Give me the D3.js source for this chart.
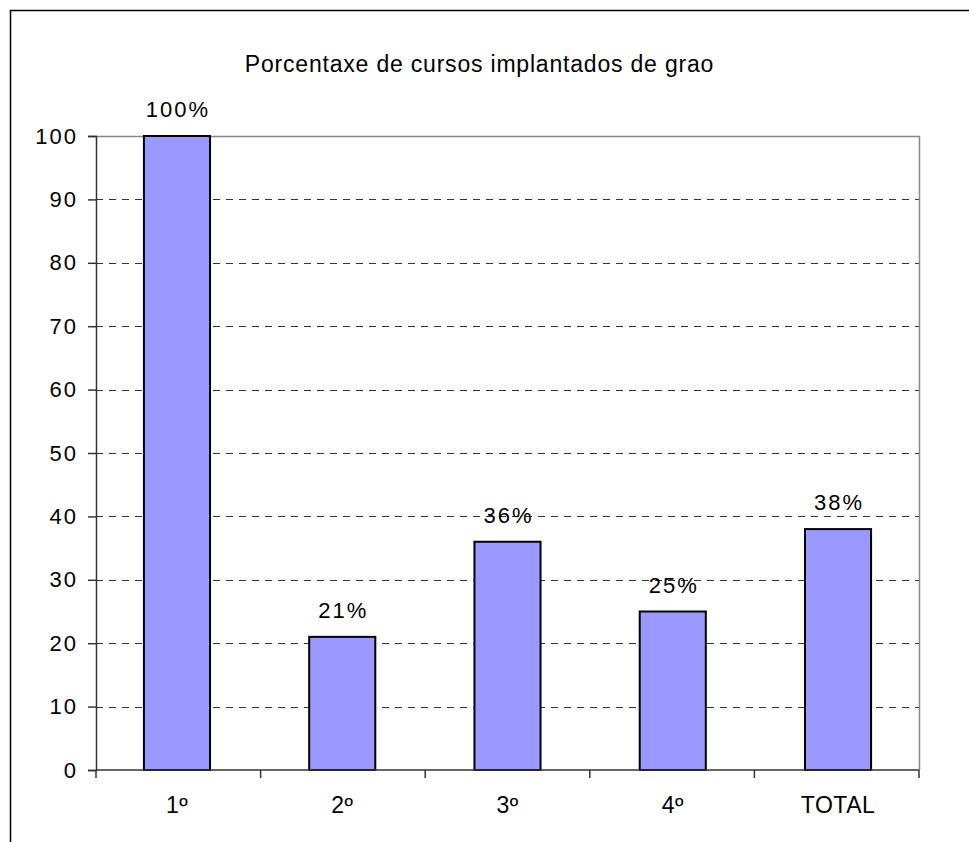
<!DOCTYPE html>
<html>
<head>
<meta charset="utf-8">
<script src="https://cdn.jsdelivr.net/npm/d3@7"></script>
<style>
  body { margin: 0; background: #fff; }
  svg { display: block; font-family: Arial, "Liberation Sans", sans-serif; }
</style>
</head>
<body>
<svg id="chart" width="969" height="842"></svg>
<script>
const title = 'Porcentaxe de cursos implantados de grao'
const categories = ['1º', '2º', '3º', '4º', 'TOTAL']
const values = [100, 21, 36, 25, 38]
const labels = ['100%', '21%', '36%', '25%', '38%']
const yTicks = [0, 10, 20, 30, 40, 50, 60, 70, 80, 90, 100]

const margin = { top: 136, left: 96, right: 50, bottom: 72 }
const width = 969 - margin.left - margin.right
const height = 842 - margin.top - margin.bottom
const fs = 22
const ls = 2

const svg = d3.select('#chart')

// outer chart border (runs off the right and bottom edge)
svg.append('rect')
  .attr('x', 10.5).attr('y', 10.5)
  .attr('width', 1000).attr('height', 1000)
  .attr('fill', '#fff')
  .attr('stroke', '#000')
  .attr('stroke-width', 1.5)

svg.append('text')
  .attr('x', 479 + 0.5).attr('y', 72)
  .attr('text-anchor', 'middle')
  .attr('font-size', 23)
  .attr('letter-spacing', 0.8)
  .attr('fill', '#000')
  .text(title)

const g = svg.append('g')
  .attr('transform', 'translate(' + margin.left + ',' + margin.top + ')')

const x = d3.scaleBand().domain(categories).range([0, width]).paddingInner(0.6).paddingOuter(0.29)
const y = d3.scaleLinear().domain([0, 100]).range([height, 0])

// dashed gridlines
g.append('g')
  .selectAll('line')
  .data(yTicks.filter(d => d > 0 && d < 100))
  .join('line')
  .attr('x1', 0).attr('x2', width)
  .attr('y1', d => Math.round(y(d)) + 0.5).attr('y2', d => Math.round(y(d)) + 0.5)
  .attr('stroke', '#333')
  .attr('stroke-dasharray', '7,6')

// plot frame top and right
g.append('path')
  .attr('d', 'M0,' + (Math.round(y(100)) + 0.5) + 'H' + (width + 0.5) + 'V' + height)
  .attr('fill', 'none')
  .attr('stroke', '#888')
  .attr('stroke-width', 1.5)

// bars
g.append('g')
  .selectAll('rect')
  .data(values)
  .join('rect')
  .attr('x', (d, i) => x(categories[i]))
  .attr('y', d => y(d))
  .attr('width', x.bandwidth())
  .attr('height', d => height - y(d))
  .attr('fill', '#9999ff')
  .attr('stroke', '#000')
  .attr('stroke-width', 2)

// value labels
g.append('g')
  .selectAll('text')
  .data(values)
  .join('text')
  .attr('x', (d, i) => x(categories[i]) + x.bandwidth() / 2 + ls / 2)
  .attr('y', d => y(d) - 19)
  .attr('text-anchor', 'middle')
  .attr('font-size', fs)
  .attr('letter-spacing', ls)
  .text((d, i) => labels[i])

// y axis
const yAxis = g.append('g')
  .call(d3.axisLeft(y).tickValues(yTicks).tickSize(8).tickPadding(12 - ls).tickFormat(d3.format('d')))
yAxis.select('.domain').attr('stroke', '#333').attr('stroke-width', 1.5)
yAxis.selectAll('.tick line').attr('stroke', '#333').attr('stroke-width', 1.5)
yAxis.selectAll('text')
  .attr('font-size', fs).attr('letter-spacing', ls)
  .attr('fill', '#000').attr('font-family', null)

// x axis: ticks sit at band boundaries
const boundaries = d3.range(categories.length + 1).map(i => i * width / categories.length)
const xAxis = g.append('g').attr('transform', 'translate(0,' + height + ')')
xAxis.append('line')
  .attr('x1', 0).attr('x2', width)
  .attr('stroke', '#333').attr('stroke-width', 1.5)
xAxis.selectAll('.xt')
  .data(boundaries)
  .join('line')
  .attr('class', 'xt')
  .attr('x1', d => d).attr('x2', d => d)
  .attr('y1', 0).attr('y2', 8)
  .attr('stroke', '#333').attr('stroke-width', 1.5)
xAxis.selectAll('text')
  .data(categories)
  .join('text')
  .attr('x', d => x(d) + x.bandwidth() / 2)
  .attr('y', 43)
  .attr('text-anchor', 'middle')
  .attr('font-size', 23)
  .attr('letter-spacing', 0.5)
  .text(d => d)
</script>
</body>
</html>
